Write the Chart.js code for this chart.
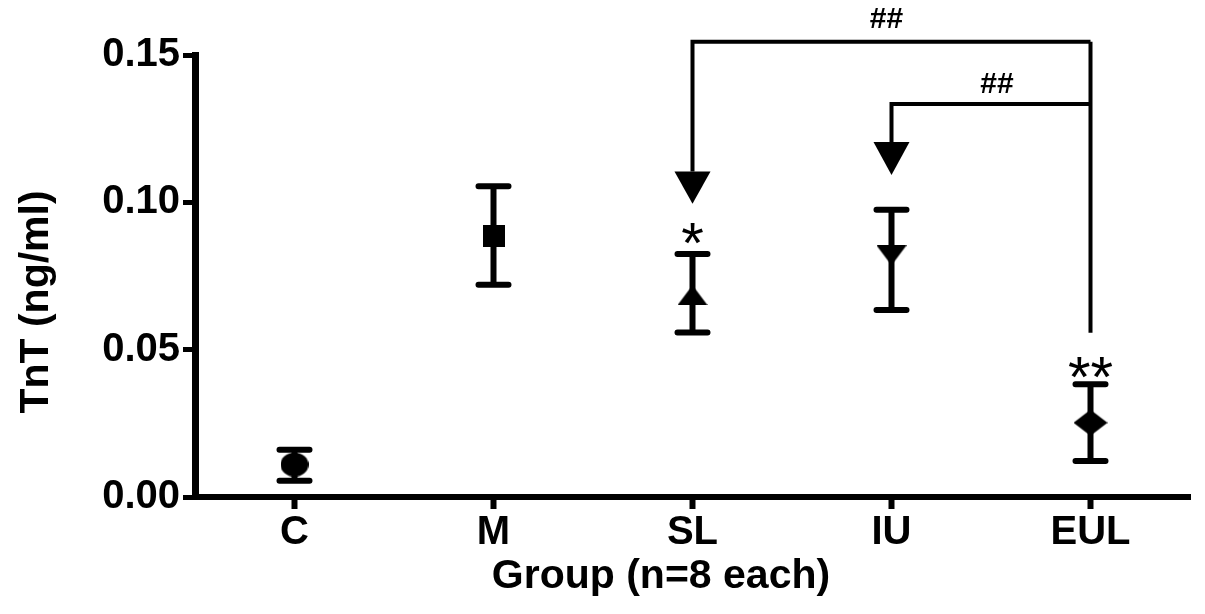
<!DOCTYPE html>
<html>
<head>
<meta charset="utf-8">
<script src="https://cdn.jsdelivr.net/npm/chart.js@4/dist/chart.umd.min.js"></script>
<style>
  html, body { margin: 0; padding: 0; background: #fff; }
  #wrap { width: 1205px; height: 614px; }
</style>
</head>
<body>
<div id="wrap"><canvas id="tntChart" width="1205" height="614"></canvas></div>
<script>
// groups and values
const groups = ['C', 'M', 'SL', 'IU', 'EUL'];
const tntMean = [0.011, 0.0885, 0.0685, 0.082, 0.0252];
const tntUpper = [0.016, 0.1055, 0.0825, 0.0975, 0.0383];
const tntLower = [0.0055, 0.072, 0.0558, 0.0635, 0.0122];
const yTicks = [0.00, 0.05, 0.10, 0.15];

// significance marks above groups
const starGroups = ['SL', 'EUL'];
const starTexts = ['*', '**'];
const starValues = [0.0886, 0.0431];

// comparison brackets: from EUL to target group
const bracketFrom = ['EUL', 'EUL'];
const bracketTo = ['SL', 'IU'];
const bracketTop = [0.1545, 0.1334];
const bracketLabels = ['##', '##'];
const bracketLabelValue = [0.162, 0.140];
const arrowBase = [0.1105, 0.1205];
const arrowTip = [0.0995, 0.1093];
const eulLineEnd = 0.0557;

const FONT = '"Liberation Sans", Arial, sans-serif';

// 🎯 marker shapes (slightly flattened like the original)
function makeMarker(w, h, draw) {
    const c = document.createElement('canvas');
    c.width = w; c.height = h;
    const g = c.getContext('2d');
    g.fillStyle = '#000';
    g.beginPath();
    draw(g, w, h);
    g.fill();
    return c;
}
const markerCircle = makeMarker(28, 24, (g, w, h) => g.ellipse(w / 2, h / 2, w / 2, h / 2, 0, 0, Math.PI * 2));
const markerSquare = makeMarker(22, 22, (g, w, h) => g.rect(0, 0, w, h));
const markerUp = makeMarker(30, 20, (g, w, h) => { g.moveTo(w / 2, 0); g.lineTo(w, h); g.lineTo(0, h); g.closePath(); });
const markerDown = makeMarker(30, 20, (g, w, h) => { g.moveTo(0, 0); g.lineTo(w, 0); g.lineTo(w / 2, h); g.closePath(); });
const markerDiamond = makeMarker(34, 26, (g, w, h) => { g.moveTo(w / 2, 0); g.lineTo(w, h / 2); g.lineTo(w / 2, h); g.lineTo(0, h / 2); g.closePath(); });
const markerStyles = [markerCircle, markerSquare, markerUp, markerDown, markerDiamond];

// 🔧 error bars drawn under the markers
const errorBars = {
    id: 'errorBars',
    beforeDatasetsDraw(chart) {
        const { ctx, scales: { x, y } } = chart;
        ctx.save();
        ctx.strokeStyle = '#000';
        ctx.lineWidth = 6;
        ctx.lineCap = 'round';
        groups.forEach((g, i) => {
            const px = x.getPixelForValue(i);
            const top = y.getPixelForValue(tntUpper[i]);
            const bot = y.getPixelForValue(tntLower[i]);
            ctx.beginPath();
            ctx.moveTo(px, top); ctx.lineTo(px, bot);
            ctx.moveTo(px - 15, top); ctx.lineTo(px + 15, top);
            ctx.moveTo(px - 15, bot); ctx.lineTo(px + 15, bot);
            ctx.stroke();
        });
        ctx.restore();
    }
};

// 🔧 brackets, arrows, stars and axis titles
const annotations = {
    id: 'annotations',
    afterDatasetsDraw(chart) {
        const { ctx, scales: { x, y } } = chart;
        ctx.save();
        ctx.strokeStyle = '#000';
        ctx.fillStyle = '#000';
        ctx.lineWidth = 4;

        bracketTo.forEach((to, i) => {
            const x1 = x.getPixelForValue(groups.indexOf(to));
            const x2 = x.getPixelForValue(groups.indexOf(bracketFrom[i]));
            const yt = y.getPixelForValue(bracketTop[i]);
            const yb = y.getPixelForValue(arrowBase[i]);
            const ytip = y.getPixelForValue(arrowTip[i]);
            ctx.beginPath();
            ctx.moveTo(x1, yb);
            ctx.lineTo(x1, yt);
            ctx.lineTo(x2, yt);
            ctx.stroke();
            // arrow head
            ctx.beginPath();
            ctx.moveTo(x1 - 18, yb);
            ctx.lineTo(x1 + 18, yb);
            ctx.lineTo(x1, ytip);
            ctx.closePath();
            ctx.fill();
            // label, a bit off the middle like the original
            ctx.font = 'bold 30px ' + FONT;
            ctx.textAlign = 'center';
            ctx.textBaseline = 'middle';
            const lx = i === 0 ? (x1 + x2) / 2 - 5 : (x1 + x2) / 2 + 6;
            ctx.fillText(bracketLabels[i], lx, y.getPixelForValue(bracketLabelValue[i]));
        });

        // vertical line down from the top bracket at EUL
        const xe = x.getPixelForValue(groups.indexOf('EUL'));
        ctx.beginPath();
        ctx.moveTo(xe, y.getPixelForValue(bracketTop[0]));
        ctx.lineTo(xe, y.getPixelForValue(eulLineEnd));
        ctx.stroke();

        // stars (value = centre of the glyph)
        ctx.font = '58px ' + FONT;
        ctx.textAlign = 'center';
        ctx.textBaseline = 'alphabetic';
        starGroups.forEach((g, i) => {
            const px = x.getPixelForValue(groups.indexOf(g));
            ctx.fillText(starTexts[i], px, y.getPixelForValue(starValues[i]) + 27);
        });

        // axis titles
        ctx.font = 'bold 41px ' + FONT;
        ctx.textBaseline = 'middle';
        ctx.fillText('Group (n=8 each)', 661, 577);
        ctx.translate(37, 302);
        ctx.rotate(-Math.PI / 2);
        ctx.fillText('TnT (ng/ml)', 0, 0);
        ctx.restore();
    }
};

const ctx = document.getElementById('tntChart').getContext('2d');

const tntChart = new Chart(ctx, {
    type: 'line',
    data: {
        labels: groups,
        datasets: [{
            label: 'TnT',
            data: tntMean,
            showLine: false,
            pointStyle: markerStyles,
            pointRadius: 14,
            pointBackgroundColor: '#000',
            pointBorderColor: '#000'
        }]
    },
    options: {
        responsive: false,
        animation: false,
        clip: false,
        layout: { padding: { top: 55, right: 8, bottom: 0, left: 0 } },
        plugins: {
            legend: { display: false },
            tooltip: { enabled: false }
        },
        scales: {
            x: {
                type: 'category',
                offset: true,
                afterFit(scale) { scale.height = 117; },
                border: { display: true, color: '#000', width: 6 },
                grid: {
                    offset: false,
                    drawOnChartArea: false,
                    drawTicks: true,
                    tickLength: 12,
                    tickWidth: 6,
                    tickColor: '#000'
                },
                ticks: {
                    color: '#000',
                    padding: 0,
                    font: { family: FONT, size: 40, weight: 'bold' }
                }
            },
            y: {
                min: 0,
                max: 0.15,
                afterFit(scale) { scale.width = 195; },
                afterBuildTicks(scale) { scale.ticks = yTicks.map(v => ({ value: v })); },
                border: { display: true, color: '#000', width: 7 },
                grid: {
                    drawOnChartArea: false,
                    drawTicks: true,
                    tickLength: 12,
                    tickWidth: 5,
                    tickColor: '#000'
                },
                ticks: {
                    color: '#000',
                    padding: 3,
                    font: { family: FONT, size: 40, weight: 'bold' },
                    callback: v => Number(v).toFixed(2)
                }
            }
        }
    },
    plugins: [errorBars, annotations]
});
</script>
</body>
</html>
